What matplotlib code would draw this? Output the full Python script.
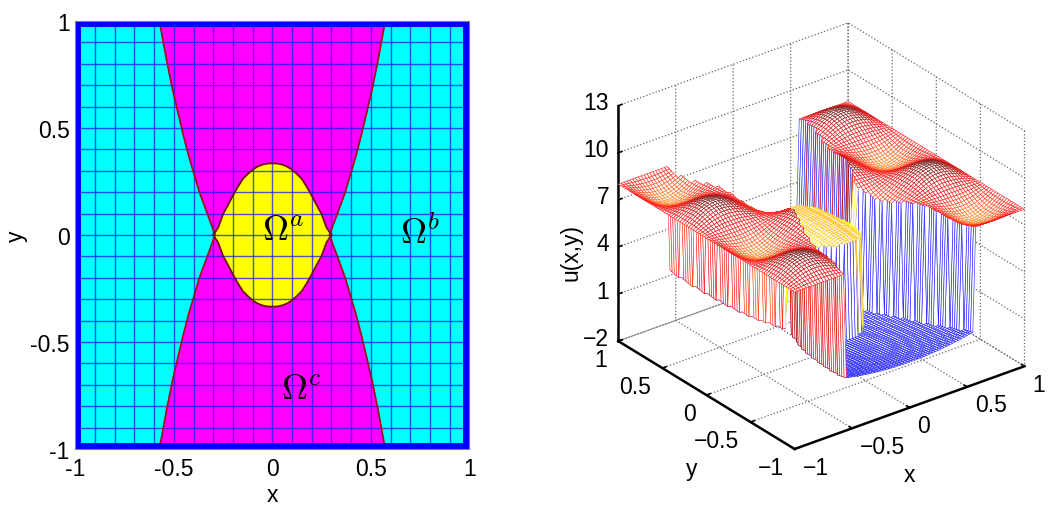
import numpy as np
import matplotlib
matplotlib.use("Agg")
import matplotlib.pyplot as plt
from matplotlib.colors import LinearSegmentedColormap, Normalize
from mpl_toolkits.mplot3d import Axes3D, proj3d

plt.rcParams['font.family'] = ['Liberation Sans', 'DejaVu Sans']
plt.rcParams['mathtext.fontset'] = 'cm'

# x and y of the mesh, step 0.025
grid = np.linspace(-1, 1, 81)

# half width of the magenta band, for |y| = 0, 0.025, ... 1
band_half = [0.29, 0.30, 0.31, 0.32, 0.33, 0.34, 0.35, 0.36, 0.37, 0.378, 0.386,
             0.394, 0.402, 0.41, 0.418, 0.426, 0.433, 0.44, 0.447, 0.454, 0.46,
             0.467, 0.473, 0.48, 0.486, 0.492, 0.499, 0.505, 0.511, 0.516, 0.522,
             0.527, 0.533, 0.538, 0.543, 0.548, 0.553, 0.558, 0.563, 0.568, 0.574]

# half height of the yellow lens, for |x| = 0, 0.025, ... 0.3
lens_half = [0.335, 0.334, 0.329, 0.32, 0.305, 0.285, 0.262, 0.225, 0.184, 0.14, 0.098, 0.035, 0.0]

# ripple on the two outer plateaus, read along x and along y
ripple = [0, 0.16, 0.31, 0.45, 0.59, 0.71, 0.81, 0.89, 0.95, 0.99, 1, 0.99, 0.95, 0.89,
          0.81, 0.71, 0.59, 0.45, 0.31, 0.16, 0, -0.16, -0.31, -0.45, -0.59, -0.71, -0.81,
          -0.89, -0.95, -0.99, -1, -0.99, -0.95, -0.89, -0.81, -0.71, -0.59, -0.45, -0.31,
          -0.16, 0, 0.16, 0.31, 0.45, 0.59, 0.71, 0.81, 0.89, 0.95, 0.99, 1, 0.99, 0.95,
          0.89, 0.81, 0.71, 0.59, 0.45, 0.31, 0.16, 0, -0.16, -0.31, -0.45, -0.59, -0.71,
          -0.81, -0.89, -0.95, -0.99, -1, -0.99, -0.95, -0.89, -0.81, -0.71, -0.59, -0.45,
          -0.31, -0.16, 0]

# rise of the floor away from the centre, for |x| or |y| = 0, 0.025, ... 1
rise_x = [0, 0, 0, 0.01, 0.02, 0.02, 0.03, 0.05, 0.06, 0.08, 0.09, 0.11, 0.14, 0.16, 0.18,
          0.21, 0.24, 0.27, 0.30, 0.34, 0.38, 0.41, 0.45, 0.50, 0.54, 0.59, 0.63, 0.68,
          0.74, 0.79, 0.84, 0.90, 0.96, 1.02, 1.08, 1.15, 1.22, 1.28, 1.35, 1.43, 1.50]
rise_y = [0, 0, 0, 0, 0.01, 0.01, 0.02, 0.03, 0.03, 0.04, 0.05, 0.06, 0.07, 0.09, 0.10,
          0.12, 0.13, 0.15, 0.17, 0.19, 0.21, 0.23, 0.25, 0.27, 0.30, 0.32, 0.35, 0.38,
          0.41, 0.44, 0.47, 0.50, 0.53, 0.56, 0.60, 0.64, 0.67, 0.71, 0.75, 0.79, 0.83]

plateau_level = 8.0
ripple_height = 0.9
floor_level = 0.07
lens_level = 6.4

x_ticks = [-1, -0.5, 0, 0.5, 1]
x_ticklabels = ['-1', '-0.5', '0', '0.5', '1']
z_ticks = [-2, 1, 4, 7, 10, 13]
mesh_ticklabels = ['\u22121', '\u22120.5', '0', '0.5', '1']
z_ticklabels = ['\u22122', '1', '4', '7', '10', '13']

fig = plt.figure(figsize=(10.5, 5.1), dpi=100)

# ---------- left panel: the three regions ----------
ax = fig.add_axes([75.3 / 1050, 60 / 510, 394 / 1050, 428 / 510])
half = grid[40:]
ys = np.concatenate([-half[::-1], half])
band = np.array(band_half)
band_full = np.concatenate([band[::-1], band])
lens_x = half[:len(lens_half)]
xs = np.concatenate([-lens_x[::-1], lens_x])
lens = np.array(lens_half)
lens_full = np.concatenate([lens[::-1], lens])

ax.set_facecolor('#00ffff')
ax.fill_betweenx(ys, -band_full, band_full, color='#ff00ff', lw=0, zorder=1)
ax.fill_between(xs, -lens_full, lens_full, color='#ffff00', lw=0, zorder=2)
for v in np.arange(-9, 10) / 10:
    ax.axvline(v, color='#1a1aff', lw=1.0, alpha=0.75, zorder=3)
    ax.axhline(v, color='#1a1aff', lw=1.0, alpha=0.75, zorder=3)
ax.plot(band_full, ys, color='#a01020', lw=1.3, zorder=4)
ax.plot(-band_full, ys, color='#a01020', lw=1.3, zorder=4)
ax.plot(xs, lens_full, color='#701020', lw=1.3, zorder=4)
ax.plot(xs, -lens_full, color='#701020', lw=1.3, zorder=4)
ax.plot([-1, 1, 1, -1, -1], [-1, -1, 1, 1, -1], color='#0000ff', lw=8.6, zorder=5,
        solid_joinstyle='miter')

ax.text(0.055, 0.02, r'$\Omega^a$', fontsize=26, ha='center', va='center', zorder=6)
ax.text(0.75, 0.01, r'$\Omega^b$', fontsize=26, ha='center', va='center', zorder=6)
ax.text(0.145, -0.72, r'$\Omega^c$', fontsize=26, ha='center', va='center', zorder=6)

ax.set_xlim(-1, 1)
ax.set_ylim(-1, 1)
ax.set_xticks(x_ticks)
ax.set_xticklabels(x_ticklabels)
ax.set_yticks(x_ticks)
ax.set_yticklabels(x_ticklabels)
ax.tick_params(length=0, labelsize=16.5)
ax.tick_params(axis='x', pad=6)
ax.tick_params(axis='y', pad=4)
ax.set_xlabel('x', fontsize=16.5, labelpad=2)
ax.set_ylabel('y', fontsize=16.5, labelpad=2)
for s in ax.spines.values():
    s.set_color('#808080')
    s.set_linewidth(0.8)
    s.set_zorder(7)

# ---------- right panel: the mesh ----------
X, Y = np.meshgrid(grid, grid)
Z = np.zeros_like(X)
kind = np.zeros_like(X, dtype=int)
for j in range(81):
    for i in range(81):
        ay = abs(j - 40)
        ax_i = abs(i - 40)
        if ax_i * 0.025 >= band_half[ay]:
            Z[j, i] = plateau_level + ripple_height * ripple[i] * ripple[j]
            kind[j, i] = 2
        elif ax_i < len(lens_half) and ay * 0.025 < lens_half[ax_i]:
            Z[j, i] = lens_level - 9 * rise_x[ax_i] - 2 * rise_y[ay]
            kind[j, i] = 1
        else:
            Z[j, i] = floor_level + rise_x[ax_i] + rise_y[ay]

heat = LinearSegmentedColormap.from_list('heat', ['#ffb030', '#ff5a20', '#ff1a18', '#d81010', '#701818'])
lens_map = LinearSegmentedColormap.from_list('lens', ['#ffff10', '#ffff10', '#ffe820', '#ffc020'])
plateau_norm = Normalize(6.9, 8.9)
lens_norm = Normalize(5.3, 6.3)

edge = np.zeros(X.shape + (4,))
edge[kind == 0] = (0.1, 0.1, 1.0, 1.0)
edge[kind == 2] = heat(plateau_norm(Z[kind == 2]))
edge[kind == 1] = lens_map(lens_norm(Z[kind == 1]))

ax3 = fig.add_axes([0.5255, -0.0585, 0.5, 1.16], projection='3d', proj_type='ortho')
ax3.view_init(elev=28, azim=-127.5)
ax3.set_box_aspect((1, 1, 0.92), zoom=0.904)
surf = ax3.plot_surface(X, Y, Z, rstride=1, cstride=1, facecolors=edge[:-1, :-1], shade=False)
surf.set_facecolor('white')
surf.set_edgecolor(edge[:-1, :-1].reshape(-1, 4))
surf.set_linewidth(0.4)

ax3.set_xlim(-1, 1, view_margin=0)
ax3.set_ylim(-1, 1, view_margin=0)
ax3.set_zlim(-2, 13, view_margin=0)
ax3.set_xticks(x_ticks)
ax3.set_xticklabels([''] * 5)
ax3.set_yticks(x_ticks)
ax3.set_yticklabels([''] * 5)
ax3.set_zticks(z_ticks)
ax3.set_zticklabels([''] * 6)
for a in (ax3.xaxis, ax3.yaxis, ax3.zaxis):
    a.set_pane_color((1, 1, 1, 0))
    a.pane.set_edgecolor('none')
    a.line.set_color('black')
    a.line.set_linewidth(1.8)
    a._axinfo['grid'].update(color='#666666', linestyle=':', linewidth=0.9)
    a._axinfo['tick'].update(inward_factor=0.0, outward_factor=0.2, linewidth={True: 1.2, False: 1.0})


# tick labels sit off the axes at fixed pixel offsets, like the original
def label_at(x, y, z, text, dx, dy, **kw):
    px, py, _ = proj3d.proj_transform(x, y, z, ax3.get_proj())
    ax3.annotate(text, xy=(px, py), xycoords='data', xytext=(dx, dy), textcoords='offset pixels',
                 fontsize=16.5, va='center', annotation_clip=False, **kw)


ax3.apply_aspect()
for v, s in zip(x_ticks, mesh_ticklabels):
    label_at(v, -1, -2, s, 8, -18, ha='left')
    label_at(-1, v, -2, s, -11, -18, ha='right')
for v, s in zip(z_ticks, z_ticklabels):
    label_at(-1, 1, v, s, -9, 3, ha='right')
label_at(0, -1, -2, 'x', 0, -67, ha='center')
label_at(-1, 0, -2, 'y', -15, -73, ha='center')
label_at(-1, 1, 4, 'u(x,y)', -47, -5, ha='center', rotation=90)

fig.savefig('out.png', dpi=100)
